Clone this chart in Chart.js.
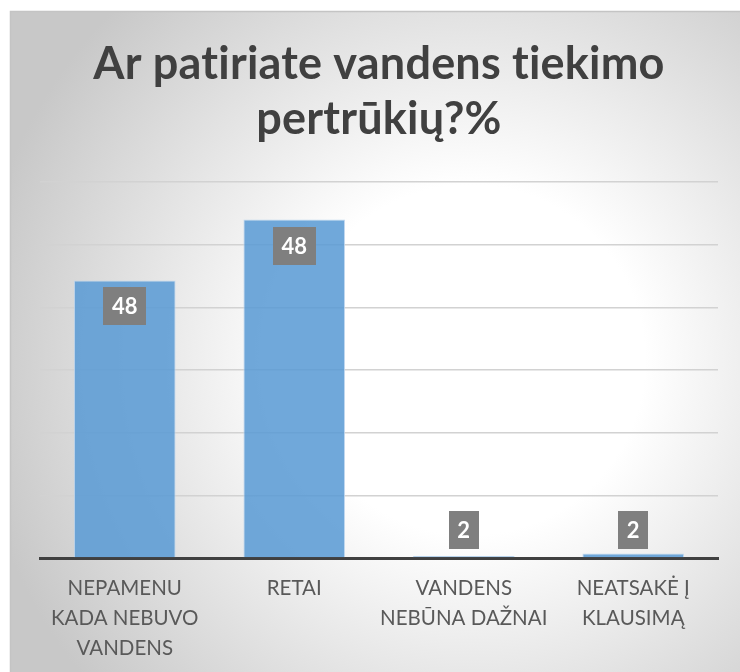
<!DOCTYPE html>
<html><head><meta charset="utf-8">
<script src="https://cdn.jsdelivr.net/npm/chart.js@4/dist/chart.umd.min.js"></script>
<style>html,body{margin:0;padding:0;background:#fff;}#wrap{width:740px;height:672px;position:relative;}</style>
</head><body><div id="wrap"><canvas id="c" width="740" height="672"></canvas></div>
<script>
const titleLines = ["Ar patiriate vandens tiekimo", "pertrūkių?%"];
const categories = [["NEPAMENU", "KADA NEBUVO", "VANDENS"], ["RETAI"], ["VANDENS", "NEBŪNA DAŽNAI"], ["NEATSAKĖ Į", "KLAUSIMĄ"]];
const barValues = [44.3, 54.0, 0.3, 0.7];
const dataLabels = ["48", "48", "2", "2"];
const yMax = 60;
const yStep = 10;

const FONT = "Lato";

const bgPlugin = {
  id: 'bg',
  beforeDraw(chart) {
    const ctx = chart.ctx;
    ctx.save();
    ctx.fillStyle = '#ffffff';
    ctx.fillRect(0, 0, chart.width, chart.height);
    const g = ctx.createRadialGradient(470, 360, 0, 470, 360, 500);
    g.addColorStop(0, '#ffffff');
    g.addColorStop(0.35, '#ffffff');
    g.addColorStop(1, '#c8c8c8');
    ctx.fillStyle = g;
    ctx.fillRect(10, 11, chart.width - 10, chart.height - 11);
    ctx.strokeStyle = '#c4c4c4';
    ctx.lineWidth = 1.5;
    ctx.beginPath();
    ctx.moveTo(10.5, chart.height);
    ctx.lineTo(10.5, 11.5);
    ctx.lineTo(chart.width, 11.5);
    ctx.stroke();
    ctx.restore();
  }
};

const titlePlugin = {
  id: 'ttl',
  afterDraw(chart) {
    const ctx = chart.ctx;
    const a = chart.chartArea;
    const cx = (a.left + a.right) / 2;
    ctx.save();
    ctx.fillStyle = '#404040';
    ctx.font = 'bold 45px ' + FONT;
    try { ctx.letterSpacing = '0.2px'; } catch (e) {}
    ctx.textAlign = 'center';
    ctx.textBaseline = 'alphabetic';
    ctx.fillText(titleLines[0], cx, 79);
    ctx.fillText(titleLines[1], cx, 134);
    ctx.restore();
  }
};

const labelPlugin = {
  id: 'dl',
  afterDatasetsDraw(chart) {
    const ctx = chart.ctx;
    const meta = chart.getDatasetMeta(0);
    ctx.save();
    ctx.font = 'bold 22px ' + FONT;
    ctx.textAlign = 'center';
    ctx.textBaseline = 'middle';
    meta.data.forEach((bar, i) => {
      const txt = dataLabels[i];
      const w = ctx.measureText(txt).width + 17;
      const h = 38;
      let top;
      if (bar.base - bar.y > h + 20) top = bar.y + 7;
      else top = bar.base - 8 - h;
      ctx.fillStyle = '#7f7f7f';
      ctx.fillRect(Math.round(bar.x - w / 2), Math.round(top), Math.round(w), h);
      ctx.fillStyle = '#ffffff';
      ctx.fillText(txt, bar.x, top + h / 2 + 1);
    });
    ctx.restore();
  }
};

new Chart(document.getElementById('c'), {
  type: 'bar',
  data: {
    labels: categories,
    datasets: [{
      data: barValues,
      backgroundColor: 'rgba(91,155,213,0.87)',
      borderColor: 'rgba(190,214,240,0.9)',
      borderWidth: 1,
      barPercentage: 0.6,
      categoryPercentage: 1.0
    }]
  },
  options: {
    responsive: false,
    animation: false,
    devicePixelRatio: 1,
    layout: { padding: { left: 40, right: 22, top: 182, bottom: 0 } },
    plugins: { legend: { display: false }, title: { display: false }, tooltip: { enabled: false } },
    scales: {
      x: {
        grid: { display: false, drawTicks: false },
        border: { display: true, color: '#404040', width: 3 },
        ticks: { color: '#595959', font: { family: FONT, size: 20.5, lineHeight: 1.45 }, padding: 16, maxRotation: 0, autoSkip: false },
        afterFit(s) { s.height = 114; }
      },
      y: {
        min: 0, max: yMax,
        ticks: { display: false, stepSize: yStep },
        grid: { color: '#d2d2d2', lineWidth: 1.5, drawTicks: false },
        border: { display: false },
        afterFit(s) { s.width = 0; }
      }
    }
  },
  plugins: [bgPlugin, titlePlugin, labelPlugin]
});
</script>
</body></html>
